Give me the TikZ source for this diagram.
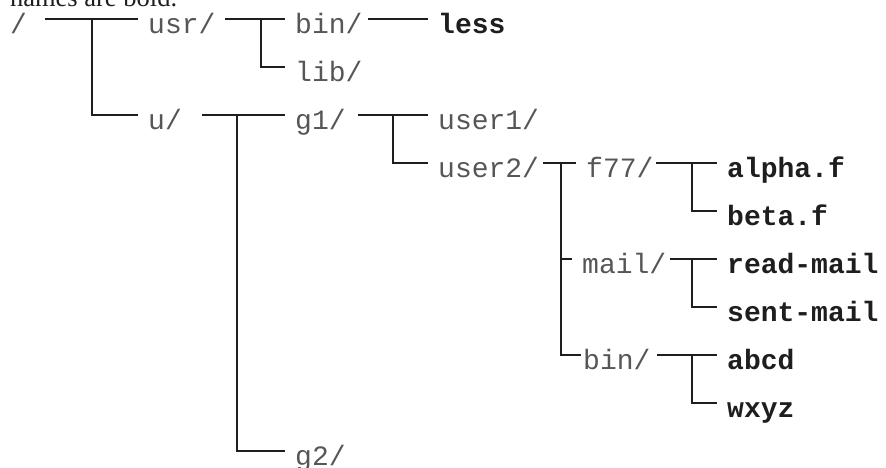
\documentclass[tikz,border=0pt]{standalone}
\usepackage{fontspec}
\setmainfont{Liberation Serif}
\setmonofont{Liberation Mono}
\definecolor{ink}{RGB}{30,30,30}
\tikzset{
  dir/.style={font=\ttfamily\fontsize{28}{30}\selectfont,text=ink!75,anchor=west,
    inner xsep=10pt,inner ysep=0pt,text height=35pt,text depth=6pt},
  file/.style={dir,text=ink,font=\ttfamily\bfseries\fontsize{28}{30}\selectfont},
  link/.style={draw=ink,line width=1.2pt},
}
\begin{document}
\begin{tikzpicture}[x=1pt,y=-1pt]
  \useasboundingbox (0,0) rectangle (886,468);
  \clip (0,0) rectangle (886,468);
  \node[anchor=base west,inner sep=0pt,text=ink,font=\fontsize{26.5}{28}\selectfont] (note) at (-10,7) {y names are bold.};
  % directories
  \node[dir] (root) at (0,19) {/};
  \node[dir] (usr) at (138,19) {usr/};
  \node[dir] (u) at (138,115) {u/};
  \node[dir] (bin) at (285,19) {bin/};
  \node[dir] (lib) at (285,67) {lib/};
  \node[dir] (g1) at (285,115) {g1/};
  \node[dir] (g2) at (285,451) {g2/};
  \node[dir] (user1) at (428,115) {user1/};
  \node[dir] (user2) at (428,163) {user2/};
  \node[dir] (f77) at (576,163) {f77/};
  \node[dir] (mail) at (572,259) {mail/};
  \node[dir,inner xsep=2pt] (ubin) at (581,355) {bin/};
  % ordinary files
  \node[file] (less) at (428,19) {less};
  \node[file] (alpha) at (717,163) {alpha.f};
  \node[file] (beta) at (717,211) {beta.f};
  \node[file] (readmail) at (717,259) {read-mail};
  \node[file] (sentmail) at (717,307) {sent-mail};
  \node[file] (abcd) at (717,355) {abcd};
  \node[file] (wxyz) at (717,403) {wxyz};
  % where each branch leaves its parent, and where it forks
  \coordinate (root-o) at (45,19);   \coordinate (root-j) at (92,19);
  \coordinate (usr-o) at (225,19);   \coordinate (usr-j) at (261,19);
  \coordinate (bin-o) at (368,19);
  \coordinate (u-o) at (202,115);    \coordinate (u-j) at (237,115);
  \coordinate (g1-o) at (358,115);   \coordinate (g1-j) at (393,115);
  \coordinate (user2-o) at (543,163); \coordinate (user2-j) at (561,163);
  \coordinate (f77-o) at (656,163);  \coordinate (f77-j) at (692,163);
  \coordinate (mail-o) at (670,259); \coordinate (mail-j) at (692,259);
  \coordinate (ubin-o) at (657,355); \coordinate (ubin-j) at (692,355);
  \foreach \p/\a/\b in {root/usr/u,usr/bin/lib,u/g1/g2,g1/user1/user2,
      user2/f77/ubin,f77/alpha/beta,mail/readmail/sentmail,ubin/abcd/wxyz}{
    \draw[link] (\p-o) -- (\a.west);
    \draw[link] (\p-j) |- (\b.west);
  }
  \draw[link] (bin-o) -- (less.west);
  \draw[link] (user2-j |- mail.west) -- (mail.west);
\end{tikzpicture}
\end{document}
